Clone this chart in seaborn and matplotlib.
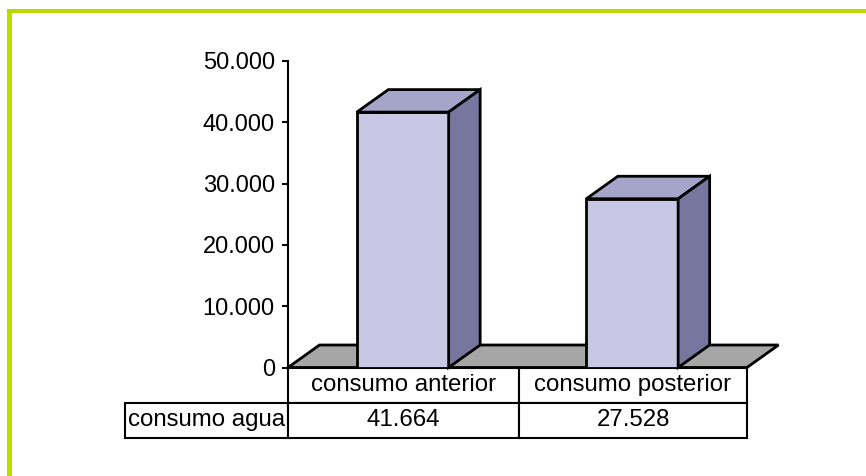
import matplotlib
matplotlib.use("Agg")
import matplotlib.pyplot as plt
import seaborn as sns
from matplotlib.patches import Polygon, Rectangle

# datos del grafico
categorias = ["consumo anterior", "consumo posterior"]
consumo = [41664, 27528]
etiqueta_fila = "consumo agua"
valores_tabla = ["41.664", "27.528"]
ticks_y = [0, 10000, 20000, 30000, 40000, 50000]
ticks_txt = ["0", "10.000", "20.000", "30.000", "40.000", "50.000"]

W, H = 866, 476
sns.set_theme(style="white")
plt.rcParams["font.family"] = ["Liberation Sans", "DejaVu Sans"]
plt.rcParams["text.color"] = "black"

fig = plt.figure(figsize=(W / 100, H / 100), dpi=100, facecolor="white")
ax = fig.add_axes([288 / W, 1 - 367.5 / H, 459 / W, 306.5 / H])

# caras frontales
sns.barplot(x=categorias, y=consumo, color="#C8C8E4", saturation=1, width=0.4,
            edgecolor="black", linewidth=2, ax=ax, zorder=3)
ax.set_xlim(-0.5, 1.5)
ax.set_ylim(0, 50000)

# profundidad del efecto 3D, en unidades de datos
dx = 31.5 / 229.5
dy = 22.5 / 306.5 * 50000

# suelo
suelo = Polygon([(-0.5, 0), (-0.5 + dx, dy), (1.5 + dx, dy), (1.5, 0)], closed=True,
                facecolor="#A6A6A6", edgecolor="black", linewidth=2, clip_on=False, zorder=1)
ax.add_patch(suelo)

# caras superior y lateral de cada barra
for barra in ax.patches[:2]:
    x0 = barra.get_x()
    x1 = x0 + barra.get_width()
    y1 = barra.get_height()
    ax.add_patch(Polygon([(x0, y1), (x0 + dx, y1 + dy), (x1 + dx, y1 + dy), (x1, y1)], closed=True,
                         facecolor="#A5A5C9", edgecolor="black", linewidth=2, clip_on=False, zorder=3))
    ax.add_patch(Polygon([(x1, 0), (x1 + dx, dy), (x1 + dx, y1 + dy), (x1, y1)], closed=True,
                         facecolor="#76769E", edgecolor="black", linewidth=2, clip_on=False, zorder=3))

# eje y
ax.set_yticks(ticks_y)
ax.set_yticklabels(ticks_txt, fontsize=17, color="black")
ax.set_xticks([])
ax.set_xlabel("")
ax.set_ylabel("")
ax.tick_params(axis="y", left=True, length=4.5, width=1.5, color="black", pad=5)
for lado in ["top", "right", "bottom"]:
    ax.spines[lado].set_visible(False)
ax.spines["left"].set_linewidth(1.5)
ax.spines["left"].set_color("black")
ax.patch.set_alpha(0)

# tabla de datos
izq = 125 - 288
ancho_fila = 288 - 125
tabla = ax.table(
    cellText=[["", categorias[0], categorias[1]], [etiqueta_fila] + valores_tabla],
    colWidths=[ancho_fila / 459, 231 / 459, 228 / 459],
    bbox=[izq / 459, -70 / 306.5, (459 + ancho_fila) / 459, 70 / 306.5],
    cellLoc="center",
)
tabla.auto_set_font_size(False)
tabla.set_fontsize(17.3)
for (fila, col), celda in tabla.get_celld().items():
    celda.set_linewidth(1.5)
    celda.set_edgecolor("black")
    celda.PAD = 0.02
    celda.get_text().set_color("black")
    if col == 0:
        celda.get_text().set_ha("left")
tabla[0, 0].visible_edges = ""

# marco verde (arriba e izquierda)
fig.add_artist(Rectangle((7 / W, 0), 4.5 / W, 1 - 9 / H, transform=fig.transFigure,
                         facecolor="#BFDB00", edgecolor="none"))
fig.add_artist(Rectangle((7 / W, 1 - 13 / H), 1 - 7 / W, 4 / H, transform=fig.transFigure,
                         facecolor="#BAD800", edgecolor="none"))

fig.savefig("out.png", dpi=100)
